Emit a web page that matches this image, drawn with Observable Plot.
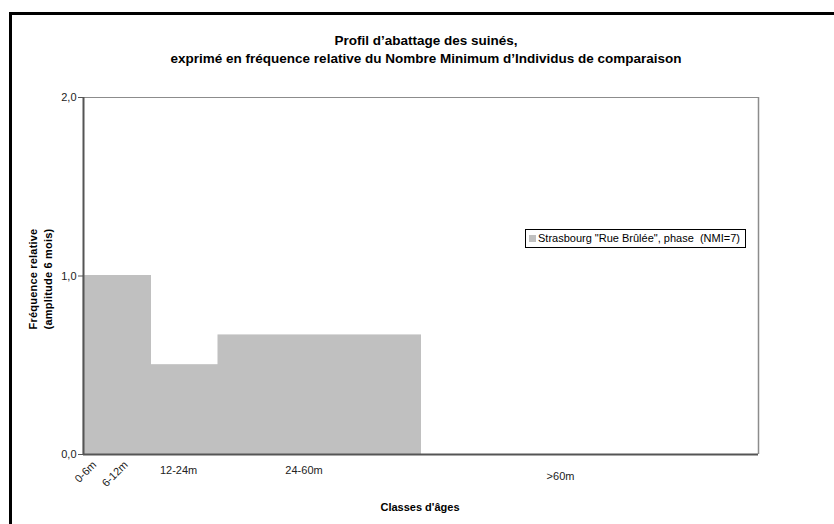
<!DOCTYPE html>
<html>
<head>
<meta charset="utf-8">
<script src="https://cdn.jsdelivr.net/npm/d3@7"></script>
<script src="https://cdn.jsdelivr.net/npm/@observablehq/plot@0.6"></script>
<style>
  html, body { margin: 0; padding: 0; background: #fff; overflow: hidden; }
  #wrap { position: relative; width: 834px; height: 524px; overflow: hidden; font-family: "Liberation Sans", Arial, sans-serif; }
  #frame { position: absolute; left: 9px; top: 12px; width: 900px; height: 600px; border: 3px solid #000; box-sizing: border-box; }
  #chart { position: absolute; left: 0; top: 0; }
  .title { position: absolute; left: 0; width: 852px; text-align: center; font-weight: bold; font-size: 13.5px; line-height: 16px; color: #000; white-space: nowrap; }
  #ytitle { position: absolute; left: 41px; top: 279px; transform: translate(-50%, -50%) rotate(-90deg); text-align: center; font-weight: bold; font-size: 11px; letter-spacing: 0.2px; line-height: 15px; white-space: nowrap; color: #000; }
  #xtitle { position: absolute; left: 0; width: 840px; top: 501px; text-align: center; font-weight: bold; font-size: 11px; color: #000; }
  #legend { position: absolute; left: 525px; top: 229px; width: 221px; height: 19px; box-sizing: border-box; border: 1px solid #000; background: #fff; font-size: 11px; white-space: pre; line-height: 17px; color: #000; }
  #legend .sw { display: inline-block; width: 7px; height: 7px; background: #c0c0c0; margin-left: 3px; margin-right: 2px; vertical-align: 0px; }
</style>
</head>
<body>
<div id="wrap">
  <div id="frame"></div>
  <div id="chart"></div>
  <div class="title" style="top:33px">Profil d’abattage des suinés,</div>
  <div class="title" style="top:51px">exprimé en fréquence relative du Nombre Minimum d’Individus de comparaison</div>
  <div id="ytitle">Fréquence relative<br>(amplitude 6 mois)</div>
  <div id="xtitle">Classes d'âges</div>
  <div id="legend"><span class="sw"></span><span id="legtext"></span></div>
</div>
<script>
// Age classes (months)
const classLabels = ["0-6m", "6-12m", "12-24m", "24-60m", ">60m"];
const classStart = [0, 6, 12, 24, 60];
const classEnd = [6, 12, 24, 60, 120];
// Relative frequency (amplitude 6 months)
const frequency = [1.0, 1.0, 0.5, 0.667, 0.0];
// Where each class label sits along the age axis (months)
const labelAt = [2.4, 8.0, 16.9, 39.2, 84.8];
const seriesName = 'Strasbourg "Rue Brûlée", phase  (NMI=7)';
const yTicks = [0, 1, 2];

document.getElementById("legtext").textContent = seriesName;

const bars = classLabels.map((c, i) => ({label: c, start: classStart[i], end: classEnd[i], value: frequency[i]}));
const labels = classLabels.map((c, i) => ({label: c, pos: labelAt[i], i}));

const chart = Plot.plot({
  width: 834,
  height: 524,
  marginLeft: 83,
  marginRight: 76,
  marginTop: 97,
  marginBottom: 70,
  style: {fontFamily: '"Liberation Sans", Arial, sans-serif', fontSize: "11px", background: "transparent", color: "#222"},
  x: {domain: [0, 120], axis: null},
  y: {domain: [0, 2], axis: null},
  marks: [
    Plot.rectY(bars, {x1: "start", x2: "end", y: "value", fill: "#c0c0c0", stroke: "#c0c0c0", strokeWidth: 1}),
    Plot.ruleY([2], {stroke: "#8c8c8c", strokeWidth: 1}),
    Plot.ruleX([120], {stroke: "#8c8c8c", strokeWidth: 1.5}),
    Plot.ruleX([0], {stroke: "#555", strokeWidth: 2}),
    Plot.ruleY([0], {stroke: "#555", strokeWidth: 2}),
    Plot.axisY({ticks: yTicks, tickFormat: d => d.toFixed(1).replace(".", ","), tickSize: 5, tickPadding: 2, label: null, stroke: "#555", fill: "#222"}),
    Plot.text(labels.filter(d => d.i < 2), {x: "pos", text: "label", frameAnchor: "bottom", rotate: -45, textAnchor: "end", dy: 11, fill: "#222"}),
    Plot.text(labels.filter(d => d.i >= 2 && d.i < 4), {x: "pos", text: "label", frameAnchor: "bottom", dy: 19, fill: "#222"}),
    Plot.text(labels.filter(d => d.i === 4), {x: "pos", text: "label", frameAnchor: "bottom", dy: 25, fill: "#222"})
  ]
});
document.getElementById("chart").appendChild(chart);
</script>
</body>
</html>
